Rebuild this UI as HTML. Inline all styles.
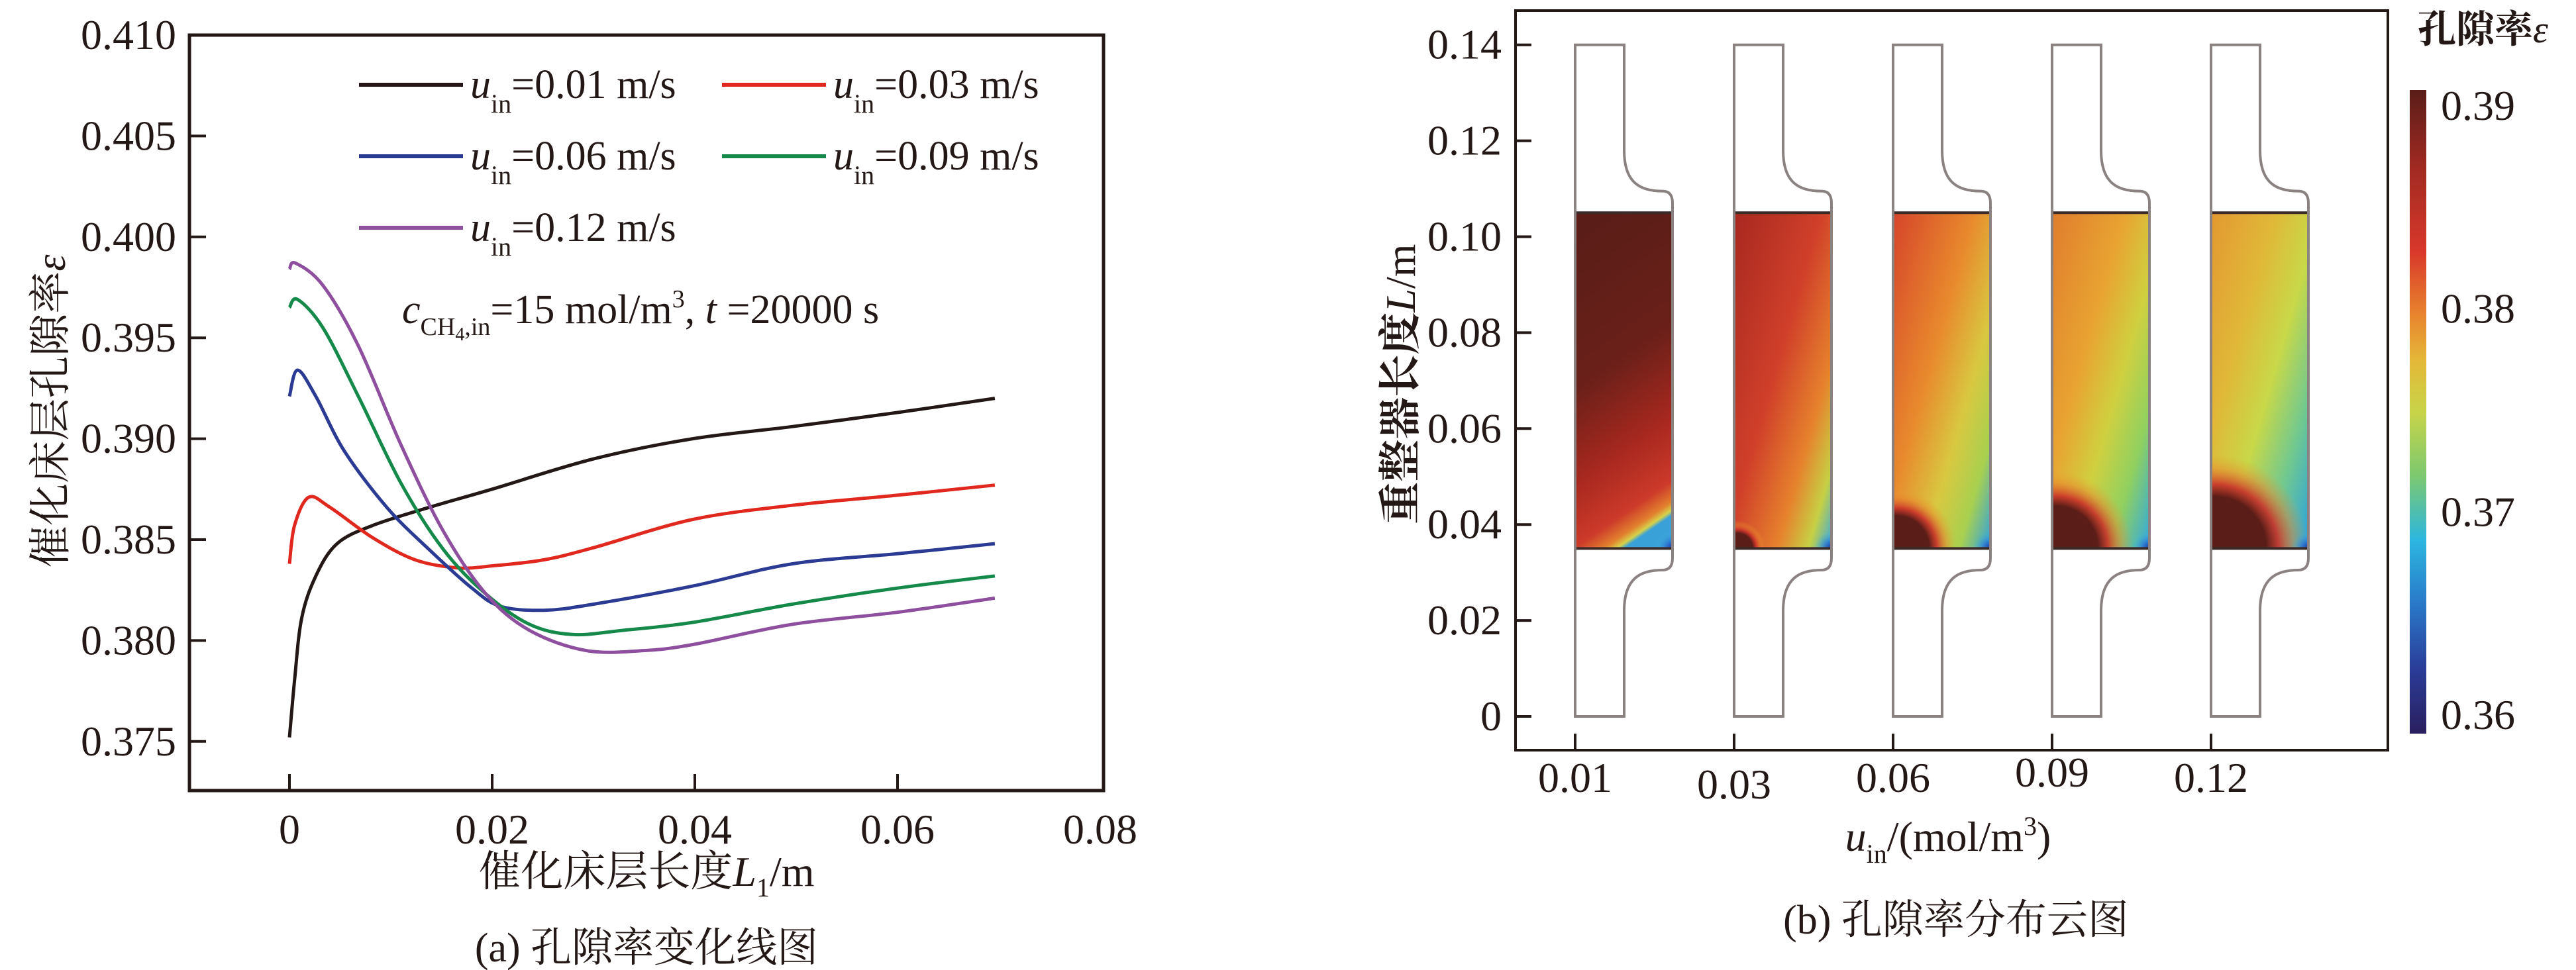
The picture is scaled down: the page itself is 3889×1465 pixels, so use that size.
<!DOCTYPE html>
<html><head><meta charset="utf-8"><style>
html,body{margin:0;padding:0;background:#fff;}
svg{display:block;font-family:"Liberation Serif","Noto Serif CJK SC",serif;}
</style></head><body>
<svg id="fig" width="3889" height="1465" viewBox="0 0 3889 1465" xmlns="http://www.w3.org/2000/svg">
<defs id="defs"></defs>
<g id="left"></g>
<g id="right"></g>
</svg>
<script>
// ---------- Left chart data ----------
const seriesNames = ["0.01","0.03","0.06","0.09","0.12"];
const seriesColors = ["#231815","#e0281e","#2b3a92","#14894a","#8e4f9e"];
const xBlack = [0,0.0005,0.0012,0.0026,0.0047,0.0082,0.0138,0.02,0.03,0.0398,0.0496,0.06,0.0696];
const yBlack = [0.3752,0.3780,0.3811,0.3832,0.3848,0.3857,0.3866,0.3875,0.3890,0.3900,0.3906,0.3913,0.3920];
const xRed = [0,0.0005,0.0019,0.004,0.0082,0.0124,0.0166,0.02,0.0251,0.03,0.0398,0.0496,0.06,0.0696];
const yRed = [0.3838,0.3857,0.3871,0.3866,0.3851,0.3840,0.3836,0.3837,0.3840,0.3846,0.3860,0.3867,0.3872,0.3877];
const xBlue = [0,0.0008,0.0026,0.0054,0.0096,0.0138,0.018,0.0208,0.0251,0.03,0.0398,0.0496,0.06,0.0696];
const yBlue = [0.3921,0.3934,0.3921,0.3894,0.3866,0.3845,0.3826,0.3817,0.3815,0.3818,0.3827,0.3838,0.3843,0.3848];
const xGreen = [0,0.0008,0.0033,0.0068,0.011,0.0152,0.0194,0.0237,0.0279,0.0328,0.0398,0.0496,0.06,0.0696];
const yGreen = [0.3965,0.3969,0.3955,0.3921,0.3878,0.3845,0.3823,0.3808,0.3803,0.3805,0.3809,0.3818,0.3826,0.3832];
const xPurple = [0,0.0006,0.0033,0.0068,0.011,0.0152,0.0194,0.0237,0.0293,0.0349,0.0398,0.0496,0.06,0.0696];
const yPurple = [0.3984,0.3987,0.3976,0.3946,0.3897,0.3854,0.3823,0.3805,0.3795,0.3795,0.3798,0.3808,0.3814,0.3821];
const xTicks = [0,0.02,0.04,0.06,0.08];
const xTickLabels = ["0","0.02","0.04","0.06","0.08"];
const yTicks = [0.375,0.380,0.385,0.390,0.395,0.400,0.405,0.410];
const yTickLabels = ["0.375","0.380","0.385","0.390","0.395","0.400","0.405","0.410"];
// ---------- Right panel data ----------
const velCats = ["0.01","0.03","0.06","0.09","0.12"];
const heightTicks = [0,0.02,0.04,0.06,0.08,0.10,0.12,0.14];
const heightTickLabels = ["0","0.02","0.04","0.06","0.08","0.10","0.12","0.14"];
const cbTicks = [0.36,0.37,0.38,0.39];
const cbTickLabels = ["0.36","0.37","0.38","0.39"];

const NS="http://www.w3.org/2000/svg";
function mk(tag,attrs,parent){const e=document.createElementNS(NS,tag);for(const k in attrs)e.setAttribute(k,attrs[k]);if(parent)parent.appendChild(e);return e;}
const L=document.getElementById('left'), R=document.getElementById('right'), D=document.getElementById('defs');

// Left axes
const fx=v=>437+(v/0.02)*306;
const fy=v=>53+(0.410-v)/0.005*152.4;
const frame=mk('rect',{x:286,y:53,width:1380,height:1141,fill:'none',stroke:'#231815','stroke-width':5},L);


yTicks.forEach((t,i)=>{
  const tk=mk('line',{x1:286,x2:311,y1:fy(t),y2:fy(t),stroke:'#231815','stroke-width':4},L);
  
  
  const tl=mk('text',{x:266,y:fy(t)+21,'text-anchor':'end','font-size':64,fill:'#231815'},L);
  tl.textContent=yTickLabels[i];
  
  
});
xTicks.forEach((t,i)=>{
  if(t<0.079){
    const tk=mk('line',{x1:fx(t),x2:fx(t),y1:1194,y2:1169,stroke:'#231815','stroke-width':4},L);
    
    
  }
  const tl=mk('text',{x:fx(t),y:1274,'text-anchor':'middle','font-size':64,fill:'#231815'},L);
  tl.textContent=xTickLabels[i];
  
  
});
function smooth(pts){
  let d='M'+pts[0][0].toFixed(1)+','+pts[0][1].toFixed(1);
  for(let i=0;i<pts.length-1;i++){
    const p0=pts[Math.max(0,i-1)],p1=pts[i],p2=pts[i+1],p3=pts[Math.min(pts.length-1,i+2)];
    const c1=[p1[0]+(p2[0]-p0[0])/6,p1[1]+(p2[1]-p0[1])/6];
    const c2=[p2[0]-(p3[0]-p1[0])/6,p2[1]-(p3[1]-p1[1])/6];
    d+=` C${c1[0].toFixed(1)},${c1[1].toFixed(1)} ${c2[0].toFixed(1)},${c2[1].toFixed(1)} ${p2[0].toFixed(1)},${p2[1].toFixed(1)}`;
  }
  return d;
}
const xs=[xBlack,xRed,xBlue,xGreen,xPurple], ys=[yBlack,yRed,yBlue,yGreen,yPurple];
xs.forEach((arr,s)=>{
  const pts=arr.map((v,i)=>[fx(v),fy(ys[s][i])]);
  const p=mk('path',{d:smooth(pts),fill:'none',stroke:seriesColors[s],'stroke-width':5,'stroke-linejoin':'round'},L);
  
  
});
// legend
const legPos=[[542,128],[1090,128],[542,236],[1090,236],[542,344]];
seriesNames.forEach((n,s)=>{
  const [lx,ly]=legPos[s];
  const g=mk('g',{},L);
  
  
  mk('line',{x1:lx,x2:lx+157,y1:ly,y2:ly,stroke:seriesColors[s],'stroke-width':6},g);
  const t=mk('text',{x:lx+168,y:ly+20,'font-size':62,fill:'#231815'},g);
  t.innerHTML='<tspan font-style="italic">u</tspan><tspan font-size="40" dy="22">in</tspan><tspan dy="-22">=0.'+n.slice(2)+' m/s</tspan>';
});
const ann=mk('text',{x:607,y:488,'font-size':62,fill:'#231815'},L);


ann.innerHTML='<tspan font-style="italic">c</tspan><tspan font-size="38" dy="18">CH</tspan><tspan font-size="28" dy="8">4</tspan><tspan font-size="38" dy="-8">,in</tspan><tspan dy="-18">=15 mol/m</tspan><tspan font-size="38" dy="-24">3</tspan><tspan dy="24">, </tspan><tspan font-style="italic">t</tspan><tspan> =20000 s</tspan>';
const xt=mk('text',{x:976,y:1338,'text-anchor':'middle','font-size':64,fill:'#231815'},L);


xt.innerHTML='催化床层长度<tspan font-style="italic">L</tspan><tspan font-size="40" dy="16">1</tspan><tspan dy="-16">/m</tspan>';
const yt=mk('text',{x:0,y:0,'text-anchor':'middle','font-size':64,fill:'#231815',transform:'translate(98,621) rotate(-90)'},L);


yt.innerHTML='催化床层孔隙率<tspan font-style="italic">ε</tspan>';
const ca=mk('text',{x:976,y:1452,'text-anchor':'middle','font-size':62,fill:'#231815'},L);
ca.textContent='(a) 孔隙率变化线图';



// ---------- Right panel ----------
const hy=v=>1082-(v/0.02)*144.9;
const colX=i=>2378+i*240;
const fr2=mk('rect',{x:2288,y:16,width:1317,height:1117,fill:'none',stroke:'#231815','stroke-width':4},R);


heightTicks.forEach((t,i)=>{
  const tk=mk('line',{x1:2288,x2:2312,y1:hy(t),y2:hy(t),stroke:'#231815','stroke-width':4},R);
  
  
  const tl=mk('text',{x:2267,y:hy(t)+21,'text-anchor':'end','font-size':64,fill:'#231815'},R);
  tl.textContent=heightTickLabels[i];
  
  
});
const diag=[
 [[0,'#5a1d18'],[0.45,'#6a2019'],[0.72,'#a8281f'],[0.9,'#cc3a2a'],[0.96,'#e2802e'],[0.985,'#d6d24a'],[1,'#3aa0d8']],
 [[0,'#a82820'],[0.45,'#d0402a'],[0.72,'#e6822d'],[0.88,'#c6d044'],[1,'#3aa8e0']],
 [[0,'#d6442a'],[0.42,'#e88a2d'],[0.66,'#d8c840'],[0.84,'#a8d050'],[1,'#30a0e0']],
 [[0,'#e07c2d'],[0.38,'#e8a431'],[0.6,'#cfd040'],[0.8,'#90d060'],[1,'#30a8e0']],
 [[0,'#e39830'],[0.33,'#e0b838'],[0.56,'#c8d848'],[0.78,'#70c890'],[1,'#2aa0e0']]
];
const blob=[0,28,60,78,95];
velCats.forEach((c,i)=>{
  const x0=colX(i), wN=74, wB=147;
  const g=mk('g',{},R);
  
  
  const lg=mk('linearGradient',{id:'lg'+i,x1:i==0?0.3:0,y1:0,x2:i==0?0.5:1,y2:1},D);
  diag[i].forEach(s=>mk('stop',{offset:s[0],'stop-color':s[1]},lg));
  const top=hy(0.105), bot=hy(0.035);
  mk('rect',{x:x0,y:top,width:wB,height:bot-top,fill:'url(#lg'+i+')'},g);
  if(blob[i]>0){
    const r=blob[i]*1.5;
    const rg=mk('radialGradient',{id:'rg'+i,gradientUnits:'userSpaceOnUse',cx:x0+5,cy:bot,r:r},D);
    [[0,'#5a1d18',1],[0.55,'#5a1d18',1],[0.68,'#c8302a',0.9],[0.85,'#e8802d',0.45],[1,'#e8a030',0]].forEach(s=>mk('stop',{offset:s[0],'stop-color':s[1],'stop-opacity':s[2]},rg));
    mk('rect',{x:x0,y:bot-r,width:Math.min(wB,r+5),height:r,fill:'url(#rg'+i+')'},g);
  }
  const bg=mk('radialGradient',{id:'bg'+i,gradientUnits:'userSpaceOnUse',cx:x0+wB,cy:bot,r:26},D);
  [[0,'#1a2a90',1],[0.4,'#2a70d0',0.8],[1,'#40c0e0',0]].forEach(s=>mk('stop',{offset:s[0],'stop-color':s[1],'stop-opacity':s[2]},bg));
  mk('rect',{x:x0+wB-26,y:bot-26,width:26,height:26,fill:'url(#bg'+i+')'},g);
  mk('line',{x1:x0,x2:x0+wB,y1:top,y2:top,stroke:'#3a2a28','stroke-width':4},g);
  mk('line',{x1:x0,x2:x0+wB,y1:bot,y2:bot,stroke:'#3a2a28','stroke-width':4},g);
  const d=`M${x0},${hy(0.14)} H${x0+wN} V${hy(0.118)} C${x0+wN},${hy(0.111)} ${x0+100},${hy(0.1095)} ${x0+132},${hy(0.1095)} Q${x0+wB},${hy(0.1095)} ${x0+wB},${hy(0.107)} V${hy(0.033)} Q${x0+wB},${hy(0.0305)} ${x0+132},${hy(0.0305)} C${x0+100},${hy(0.0305)} ${x0+wN},${hy(0.029)} ${x0+wN},${hy(0.022)} V${hy(0)} H${x0} Z`;
  mk('path',{d:d,fill:'none',stroke:'#8a8280','stroke-width':4},g);
  const tk=mk('line',{x1:x0,x2:x0,y1:1133,y2:1108,stroke:'#231815','stroke-width':4},R);
  
  
  const tl=mk('text',{x:x0,y:1196+(i==1?10:0)-(i==3?8:0),'text-anchor':'middle','font-size':64,fill:'#231815'},R);
  tl.textContent=c;
  
  
});
const cy=v=>159+(0.39-v)/0.01*306.7;
const cg=mk('linearGradient',{id:'cbg',x1:0,y1:0,x2:0,y2:1},D);
[[0,'#5a1d18'],[0.12,'#a02a22'],[0.25,'#d8382a'],[0.35,'#e8842e'],[0.42,'#e4b838'],[0.5,'#c8d448'],[0.6,'#7cc870'],[0.7,'#2cb6e0'],[0.8,'#2a78c8'],[0.9,'#2a3c98'],[1,'#2a1f5e']].forEach(s=>mk('stop',{offset:s[0],'stop-color':s[1]},cg));
const cb=mk('rect',{x:3638,y:136,width:25,height:972,fill:'url(#cbg)'},R);


cbTicks.forEach((t,i)=>{
  const tl=mk('text',{x:3685,y:cy(t)+22,'font-size':64,fill:'#231815'},R);
  tl.textContent=cbTickLabels[i];
  
  
});
const cbt=mk('text',{x:3650,y:64,'font-size':58,'font-weight':'bold',fill:'#231815'},R);


cbt.innerHTML='孔隙率<tspan font-style="italic" font-weight="normal">ε</tspan>';
const xt2=mk('text',{x:2941,y:1285,'text-anchor':'middle','font-size':64,fill:'#231815'},R);


xt2.innerHTML='<tspan font-style="italic">u</tspan><tspan font-size="40" dy="18">in</tspan><tspan dy="-18">/(mol/m</tspan><tspan font-size="40" dy="-24">3</tspan><tspan dy="24">)</tspan>';
const yt2=mk('text',{x:0,y:0,'text-anchor':'middle','font-size':64,'font-weight':'bold',fill:'#231815',transform:'translate(2136,580) rotate(-90)'},R);


yt2.innerHTML='重整器长度<tspan font-style="italic" font-weight="normal">L</tspan><tspan font-weight="normal">/m</tspan>';
const cb2=mk('text',{x:2953,y:1410,'text-anchor':'middle','font-size':62,fill:'#231815'},R);
cb2.textContent='(b) 孔隙率分布云图';


</script>
</body></html>
